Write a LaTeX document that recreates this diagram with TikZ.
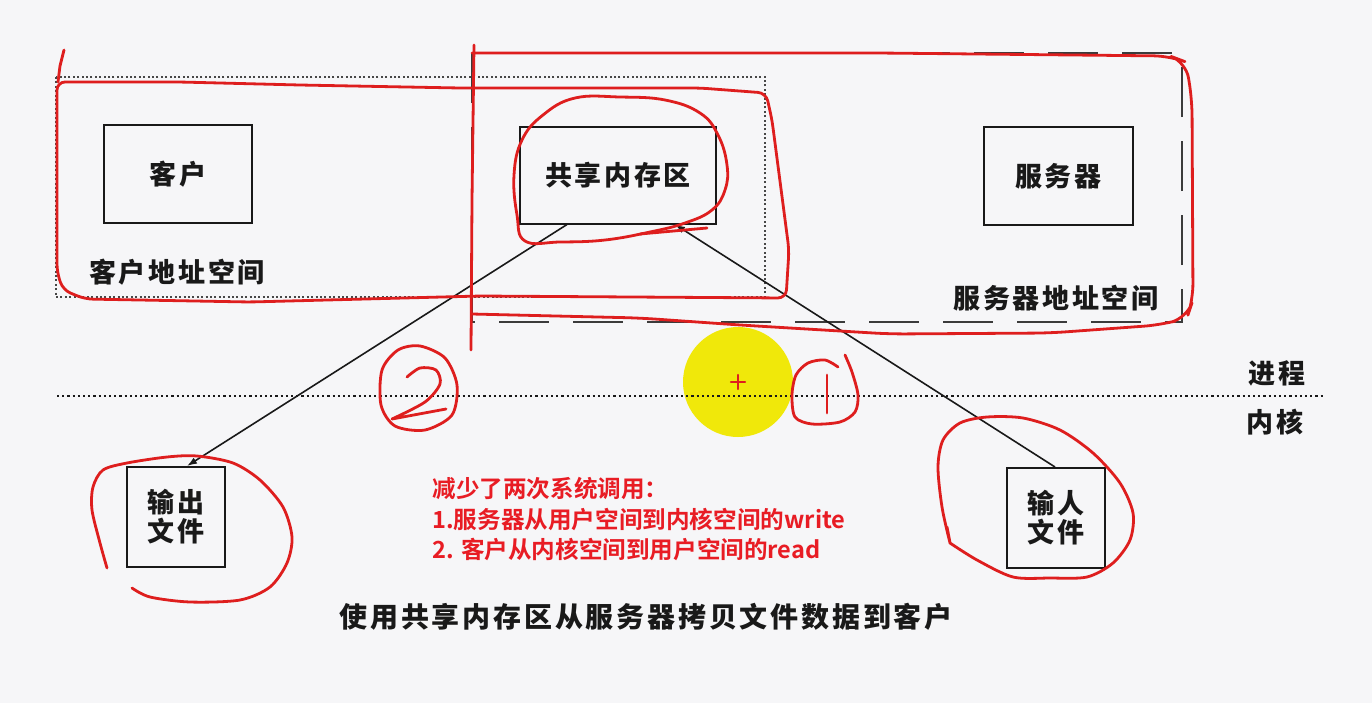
\documentclass[tikz,border=0pt]{standalone}
\usepackage{fontspec}
\newfontfamily\cjk[LetterSpace=10,BoldFont={Noto Sans CJK SC Black}]{Noto Sans CJK SC}
\newfontfamily\cjkred[BoldFont={Noto Sans CJK SC Bold}]{Noto Sans CJK SC}
\usetikzlibrary{arrows.meta}
\definecolor{bg}{RGB}{246,246,248}
\definecolor{penred}{RGB}{222,30,30}
\definecolor{redtxt}{RGB}{232,28,36}
\definecolor{yel}{RGB}{240,232,10}
\definecolor{ink}{RGB}{25,25,25}
\begin{document}
\begin{tikzpicture}[x=0.5pt,y=-0.5pt,
  box/.style={draw=ink, line width=1pt, inner sep=0pt, text=ink, font=\cjk\bfseries\fontsize{13.5}{14.5}\selectfont, align=center},
  lbl/.style={inner sep=0pt, text=ink, font=\cjk\bfseries\fontsize{13.5}{14.5}\selectfont},
  hand/.style={draw=penred, line width=1.4pt, line cap=round, line join=round},
  conn/.style={draw=ink, line width=0.8pt, -{Latex[length=5pt,width=3.5pt]}},
  redl/.style={inner sep=0pt, anchor=west, text=redtxt, font=\cjkred\bfseries\fontsize{11.8}{13}\selectfont}
]
\fill[bg] (0,0) rectangle (1372,703);
\useasboundingbox (0,0) rectangle (1372,703);

% yellow cursor highlight
\fill[yel] (738,382) circle[radius=27.5pt];

% process / kernel divider
\draw[ink, line width=0.9pt, dash pattern=on 1.1pt off 1.5pt] (57,396) -- (1325,396);

% address spaces
\draw[ink!80, line width=0.6pt, dash pattern=on 1pt off 1.2pt] (56,77) rectangle (765,297);
\draw[ink!85, line width=1.1pt, dash pattern=on 25pt off 12pt] (472,53) rectangle (1182,322);

% boxes
\node[box, minimum width=74pt, minimum height=49pt] (client) at (178,174) {客户};
\node[box, minimum width=98pt, minimum height=48.5pt] (shm) at (618,175) {共享内存区};
\node[box, minimum width=74.5pt, minimum height=49pt] (server) at (1058.5,176) {服务器};
\node[box, minimum width=49pt, minimum height=50pt] (outf) at (176,517) {输出\\文件};
\node[box, minimum width=49pt, minimum height=50pt] (inf) at (1056,518) {输人\\文件};

% labels
\node[lbl] (clab) at (177,272) {客户地址空间};
\node[lbl] (slab) at (1056,298) {服务器地址空间};
\node[lbl] (proc) at (1277,373) {进程};
\node[lbl] (kern) at (1275,422) {内核};
\node[lbl, font=\cjk\bfseries\fontsize{14}{16}\selectfont] (cap) at (646,617) {使用共享内存区从服务器拷贝文件数据到客户};

% connectors
\draw[conn] ([xshift=-25.5pt]shm.south) -- ([xshift=5.5pt]outf.north);
\draw[conn] ([xshift=-0.5pt]inf.north) -- ([xshift=28.5pt]shm.south);

% hand-drawn annotations
\draw[hand] (64,50) -- (60,66) -- (58,82);
\draw[hand, rounded corners=4pt] (57,82) -- (57,272) -- (63,290) -- (85,299) -- (250,302) -- (480,296) -- (786,298) -- (789,250) -- (772,120) -- (766,93) -- (700,88) -- (460,88) -- (300,85) -- (180,82) -- cycle;
\draw[hand] (474,45) -- (472,200) -- (471,350);
\draw[hand, rounded corners=8pt] (472,53) -- (880,53) -- (1170,56) -- (1186,62) -- (1192,100) -- (1193,300) -- (1187,318) -- (1160,325) -- (1050,333) -- (890,334) -- (740,325) -- (640,318) -- (472,314);
\draw[hand] plot[smooth cycle, tension=0.7] coordinates {(525,241) (517,215) (514,175) (522,140) (543,115) (575,98) (620,97) (665,100) (700,113) (718,135) (727,165) (725,190) (712,210) (685,223) (650,232) (605,240) (560,242)};
\draw[hand] (640,234) -- (707,228);
% circled 2
\draw[hand] plot[smooth cycle] coordinates {(420,346) (445,358) (457,385) (452,415) (425,430) (395,426) (381,405) (382,370) (398,350)};
\draw[hand] plot[smooth] coordinates {(407,377) (420,368) (436,370) (440,384) (425,402) (392,419)} -- (446,409);
% circled 1
\draw[hand] plot[smooth] coordinates {(845,355) (852,372) (858,395) (855,412) (840,422) (812,424) (795,417) (792,395) (796,375) (808,363) (825,360) (838,367)};
\draw[hand] (827,375) -- (827,413);
% output file ring
\draw[hand] plot[smooth] coordinates {(107,568) (100,543) (92,510) (93,487) (103,470) (127,463) (167,457) (197,456) (233,463) (260,480) (283,507) (292,537) (287,563) (270,587) (240,600) (190,602) (150,597) (132,588)};
% input file ring
\draw[hand] plot[smooth] coordinates {(947,527) (950,543) (942,507) (938,467) (943,440) (960,423) (987,417) (1023,418) (1060,430) (1093,453) (1120,483) (1133,513) (1130,540) (1113,563) (1087,577) (1050,578) (1013,577) (977,560) (950,543)};
% cursor cross
\draw[hand, line width=1.1pt] (731,382) -- (745,382) (738,375) -- (738,389);

% red notes
\node[redl] (r1) at (432,489) {减少了两次系统调用：};
\node[redl] (r2) at (432,519) {1.服务器从用户空间到内核空间的write};
\node[redl] (r3) at (432,549) {2. 客户从内核空间到用户空间的read};
\end{tikzpicture}
\end{document}
